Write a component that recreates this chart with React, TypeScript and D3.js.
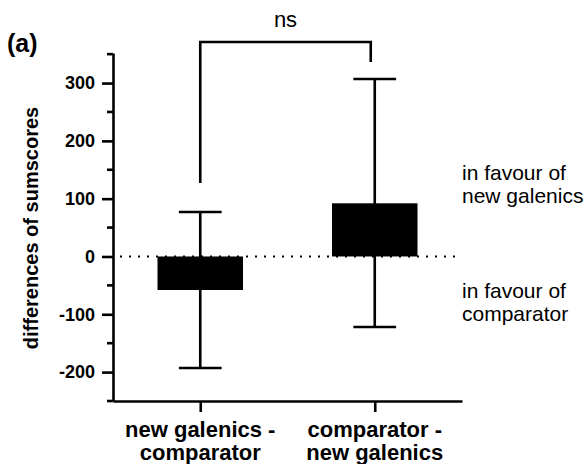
import { useEffect, useRef } from 'react';
import * as d3 from 'd3';

const categories = ['new galenics - comparator', 'comparator - new galenics'];
const categoryLines = [
  ['new galenics -', 'comparator'],
  ['comparator -', 'new galenics'],
];
const means = [-58, 92];
const upper = [77, 307];
const lower = [-193, -122];
const majorTicks = [-200, -100, 0, 100, 200, 300];
const minorTicks = [-250, -150, -50, 50, 150, 250, 350];
const yDomain: [number, number] = [-250, 352];

const FONT = 'Arial, "Liberation Sans", Helvetica, sans-serif';

export default function App() {
  const svgRef = useRef<SVGSVGElement>(null);
  const width = 587;
  const height = 464;

  useEffect(() => {
    document.body.style.margin = '0';
    if (!svgRef.current) return;
    const svg = d3.select(svgRef.current);
    svg.selectAll('*').remove();

    const left = 113;
    const right = 462;
    const top = 53;
    const bottom = 401;
    const sw = 2.6;

    const y = d3.scaleLinear().domain(yDomain).range([bottom, top]);
    const x = d3.scalePoint<string>().domain(categories).range([left, right]).padding(0.5);
    const barW = x.step() * 0.49;
    const capW = barW / 2;

    svg.append('rect').attr('width', width).attr('height', height).attr('fill', '#fff');

    // zero line
    svg.append('line')
      .attr('x1', left + 7)
      .attr('x2', right - 3)
      .attr('y1', y(0))
      .attr('y2', y(0))
      .attr('stroke', '#000')
      .attr('stroke-width', 2.2)
      .attr('stroke-dasharray', '2,7');

    // bars
    categories.forEach((c, i) => {
      const cx = x(c)!;
      const y0 = y(Math.max(0, means[i]));
      const y1 = y(Math.min(0, means[i]));
      svg.append('rect')
        .attr('x', cx - barW / 2)
        .attr('y', y0)
        .attr('width', barW)
        .attr('height', y1 - y0)
        .attr('fill', '#000');

      svg.append('line')
        .attr('x1', cx).attr('x2', cx)
        .attr('y1', y(upper[i])).attr('y2', y(lower[i]))
        .attr('stroke', '#000').attr('stroke-width', sw);
      [upper[i], lower[i]].forEach(v => {
        svg.append('line')
          .attr('x1', cx - capW / 2).attr('x2', cx + capW / 2)
          .attr('y1', y(v)).attr('y2', y(v))
          .attr('stroke', '#000').attr('stroke-width', sw);
      });
    });

    // y axis
    const yAxis = d3.axisLeft(y).tickValues(majorTicks).tickSize(11).tickSizeOuter(0).tickPadding(7)
      .tickFormat(d => `${d}`);
    const gy = svg.append('g').attr('transform', `translate(${left},0)`).call(yAxis);
    gy.select('.domain').attr('stroke-width', sw);
    gy.selectAll('.tick line').attr('stroke-width', sw);
    gy.selectAll('.tick text')
      .attr('font-family', FONT)
      .attr('font-size', 18)
      .attr('font-weight', 'bold')
      .attr('fill', '#000');
    gy.selectAll('.minor')
      .data(minorTicks)
      .enter()
      .append('line')
      .attr('x1', -6).attr('x2', 0)
      .attr('y1', d => y(d)).attr('y2', d => y(d))
      .attr('stroke', '#000').attr('stroke-width', sw);

    // x axis
    const xAxis = d3.axisBottom(x).tickSize(11).tickSizeOuter(0).tickFormat(() => '');
    const gx = svg.append('g').attr('transform', `translate(0,${bottom})`).call(xAxis);
    gx.select('.domain').attr('stroke-width', sw);
    gx.selectAll('.tick line').attr('stroke-width', sw);

    categories.forEach((c, i) => {
      categoryLines[i].forEach((t, j) => {
        svg.append('text')
          .attr('x', x(c)!)
          .attr('y', 437 + j * 23)
          .attr('text-anchor', 'middle')
          .attr('font-family', FONT)
          .attr('font-size', 22)
          .attr('font-weight', 'bold')
          .text(t);
      });
    });

    // y label
    svg.append('text')
      .attr('transform', `translate(38,228) rotate(-90)`)
      .attr('text-anchor', 'middle')
      .attr('font-family', FONT)
      .attr('font-size', 20)
      .attr('font-weight', 'bold')
      .text('differences of sumscores');

    // panel label
    svg.append('text')
      .attr('x', 7).attr('y', 52)
      .attr('font-family', FONT)
      .attr('font-size', 25)
      .attr('font-weight', 'bold')
      .text('(a)');

    // significance bracket
    const bx1 = x(categories[0])!;
    const bx2 = x(categories[1])! - 4;
    svg.append('path')
      .attr('d', `M${bx1},183 V42 H${bx2} V62`)
      .attr('fill', 'none')
      .attr('stroke', '#000')
      .attr('stroke-width', sw);
    svg.append('text')
      .attr('x', (bx1 + bx2) / 2)
      .attr('y', 27)
      .attr('text-anchor', 'middle')
      .attr('font-family', FONT)
      .attr('font-size', 22)
      .text('ns');

    // side annotations
    const notes = [
      ['in favour of', 180],
      ['new galenics', 203],
      ['in favour of', 298],
      ['comparator', 321],
    ] as const;
    notes.forEach(([t, ty]) => {
      svg.append('text')
        .attr('x', 462).attr('y', ty)
        .attr('font-family', FONT)
        .attr('font-size', 21)
        .text(t);
    });
  }, []);

  return <svg ref={svgRef} width={width} height={height} style={{ display: 'block' }} />;
}
